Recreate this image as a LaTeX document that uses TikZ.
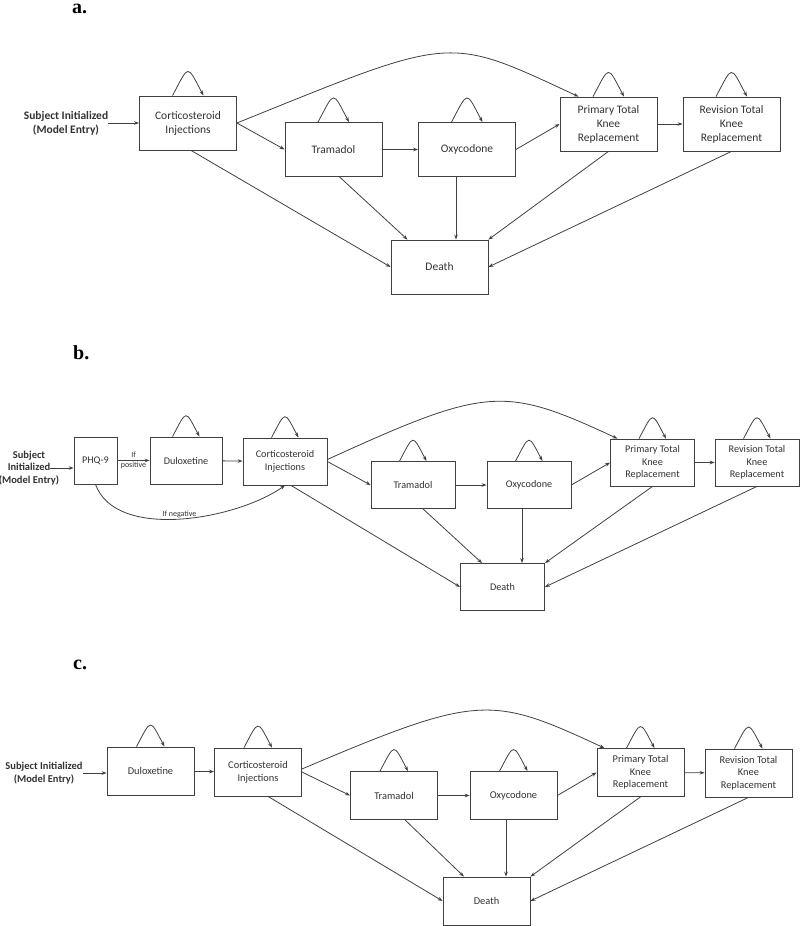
\documentclass[tikz,border=0pt]{standalone}
\usepackage{fontspec}
\setmainfont{Carlito}
\newfontfamily\panelfont{Liberation Serif}
\usetikzlibrary{arrows.meta}
\definecolor{linegray}{RGB}{64,64,64}
\definecolor{textgray}{RGB}{50,50,50}
% loop on top of a state: node, half width, control length
\newcommand{\selfloop}[3]{%
    \draw[arr] ([xshift=-#2pt]#1.north) .. controls +(62:#3) and +(118:#3) .. ([xshift=#2pt]#1.north);}
\tikzset{
    box/.style={draw=linegray, line width=.8pt, text=textgray, align=center, inner sep=1pt},
    boxa/.style={box, minimum width=97pt, minimum height=54pt, font=\fontsize{11.5}{14}\selectfont},
    boxb/.style={box, minimum width=84pt, minimum height=47pt, font=\fontsize{10.2}{12.5}\selectfont},
    boxc/.style={box, minimum width=87pt, minimum height=48pt, font=\fontsize{10.4}{12.7}\selectfont},
    entry/.style={text=textgray, align=center, inner sep=0pt},
    arr/.style={draw=linegray, line width=.8pt, -{Stealth[length=5pt,width=3.6pt]}},
    cond/.style={text=textgray, font=\fontsize{8}{9.5}\selectfont, align=center, inner sep=1pt},
    panel/.style={font=\panelfont\bfseries\fontsize{20}{24}\selectfont, anchor=base west, inner sep=0pt}
}
\begin{document}
\begin{tikzpicture}[x=1pt, y=1pt]
    \useasboundingbox (0,0) rectangle (800,-926);

    % ---- a. ----
    \node[panel] (a-label) at (72,-13.5) {a.};
    \node[entry, font=\bfseries\fontsize{11.5}{14}\selectfont] (a-entry) at (66,-123) {Subject Initialized\\(Model Entry)};
    \node[boxa] (a-cort) at (188,-123) {Corticosteroid\\Injections};
    \node[boxa] (a-tram) at (333.5,-149.5) {Tramadol};
    \node[boxa] (a-oxy) at (467,-149.5) {Oxycodone};
    \node[boxa] (a-ptkr) at (608.5,-124) {Primary Total\\Knee\\Replacement};
    \node[boxa] (a-rtkr) at (731.5,-124) {Revision Total\\Knee\\Replacement};
    \node[boxa] (a-death) at (439.5,-267) {Death};

    \foreach \n in {a-cort, a-tram, a-oxy, a-ptkr, a-rtkr} {\selfloop{\n}{15.5}{36}}

    \draw[arr] (a-entry) -- (a-cort);
    \draw[arr] (a-cort.east) -- (a-tram.west);
    \draw[arr] (a-tram) -- (a-oxy);
    \draw[arr] (a-oxy.east) -- (a-ptkr.west);
    \draw[arr] (a-ptkr) -- (a-rtkr);
    \draw[arr] (a-cort.east) .. controls +(218,88) and +(-133,62) .. ([xshift=-30pt]a-ptkr.north);
    \draw[arr] ([xshift=3pt]a-cort.south) -- (a-death.west);
    \draw[arr] ([xshift=6pt]a-tram.south) -- ([xshift=-32pt]a-death.north);
    \draw[arr] ([xshift=-11pt]a-oxy.south) -- ([xshift=-11pt]a-oxy.south |- a-death.north);
    \draw[arr] (a-ptkr.south) -- (a-death.north east);
    \draw[arr] (a-rtkr.south) -- (a-death.east);

    % ---- b. ----
    \node[panel] (b-label) at (73,-359) {b.};
    \node[entry, font=\bfseries\fontsize{10.5}{12.5}\selectfont] (b-entry) at (29,-468) {Subject\\Initialized\\(Model Entry)};
    \node[boxb, minimum width=43pt] (b-phq) at (95.5,-460.5) {PHQ-9};
    \node[boxb, minimum width=72pt] (b-dulox) at (186,-460.5) {Duloxetine};
    \node[boxb] (b-cort) at (285,-461.5) {Corticosteroid\\Injections};
    \node[boxb] (b-tram) at (413,-485) {Tramadol};
    \node[boxb] (b-oxy) at (529,-485) {Oxycodone};
    \node[boxb] (b-ptkr) at (652.5,-462.5) {Primary Total\\Knee\\Replacement};
    \node[boxb] (b-rtkr) at (757,-462.5) {Revision Total\\Knee\\Replacement};
    \node[boxb] (b-death) at (502.5,-587) {Death};

    \foreach \n in {b-dulox, b-cort, b-tram, b-oxy, b-ptkr, b-rtkr} {\selfloop{\n}{13.5}{31}}

    \draw[arr] ([xshift=-9pt]b-entry.east) -- (b-entry.east -| b-phq.west);
    \draw[arr] (b-phq) -- node[cond] {If\\[1pt]positive} (b-dulox);
    \draw[arr] (b-phq.south) .. controls +(-70:60) and +(-145:60) .. node[cond, above, pos=0.5] {If negative} (b-cort.south);
    \draw[arr] (b-dulox) -- (b-cort);
    \draw[arr] (b-cort.east) -- (b-tram.west);
    \draw[arr] (b-tram) -- (b-oxy);
    \draw[arr] (b-oxy.east) -- (b-ptkr.west);
    \draw[arr] (b-ptkr) -- (b-rtkr);
    \draw[arr] ([yshift=2pt]b-cort.east) .. controls +(160,73) and +(-114,53) .. ([xshift=-35pt]b-ptkr.north);
    \draw[arr] ([xshift=6pt]b-cort.south) -- (b-death.west);
    \draw[arr] ([xshift=10pt]b-tram.south) -- ([xshift=-20.5pt]b-death.north);
    \draw[arr] ([xshift=-7pt]b-oxy.south) -- ([xshift=-7pt]b-oxy.south |- b-death.north);
    \draw[arr] (b-ptkr.south) -- (b-death.north east);
    \draw[arr] (b-rtkr.south) -- (b-death.east);

    % ---- c. ----
    \node[panel] (c-label) at (73,-669) {c.};
    \node[entry, font=\bfseries\fontsize{10.5}{12.7}\selectfont] (c-entry) at (44,-773) {Subject Initialized\\(Model Entry)};
    \node[boxc] (c-dulox) at (150.5,-771) {Duloxetine};
    \node[boxc] (c-cort) at (258,-772) {Corticosteroid\\Injections};
    \node[boxc] (c-tram) at (394,-795.5) {Tramadol};
    \node[boxc] (c-oxy) at (513.5,-795.5) {Oxycodone};
    \node[boxc] (c-ptkr) at (640.5,-772.5) {Primary Total\\Knee\\Replacement};
    \node[boxc] (c-rtkr) at (748.5,-773) {Revision Total\\Knee\\Replacement};
    \node[boxc] (c-death) at (486.5,-901) {Death};

    \foreach \n in {c-dulox, c-cort, c-tram, c-oxy, c-ptkr, c-rtkr} {\selfloop{\n}{14}{32}}

    \draw[arr] (c-entry) -- (c-entry -| c-dulox.west);
    \draw[arr] (c-dulox) -- (c-cort);
    \draw[arr] (c-cort.east) -- (c-tram.west);
    \draw[arr] (c-tram) -- (c-oxy);
    \draw[arr] (c-oxy.east) -- (c-ptkr.west);
    \draw[arr] (c-ptkr) -- (c-rtkr);
    \draw[arr] ([yshift=3pt]c-cort.east) .. controls +(177,75) and +(-114,53) .. ([xshift=-36pt]c-ptkr.north);
    \draw[arr] ([xshift=10pt]c-cort.south) -- (c-death.west);
    \draw[arr] ([xshift=11pt]c-tram.south) -- ([xshift=-22.5pt]c-death.north);
    \draw[arr] ([xshift=-7.5pt]c-oxy.south) -- ([xshift=-7.5pt]c-oxy.south |- c-death.north);
    \draw[arr] (c-ptkr.south) -- (c-death.north east);
    \draw[arr] (c-rtkr.south) -- (c-death.east);
\end{tikzpicture}
\end{document}
